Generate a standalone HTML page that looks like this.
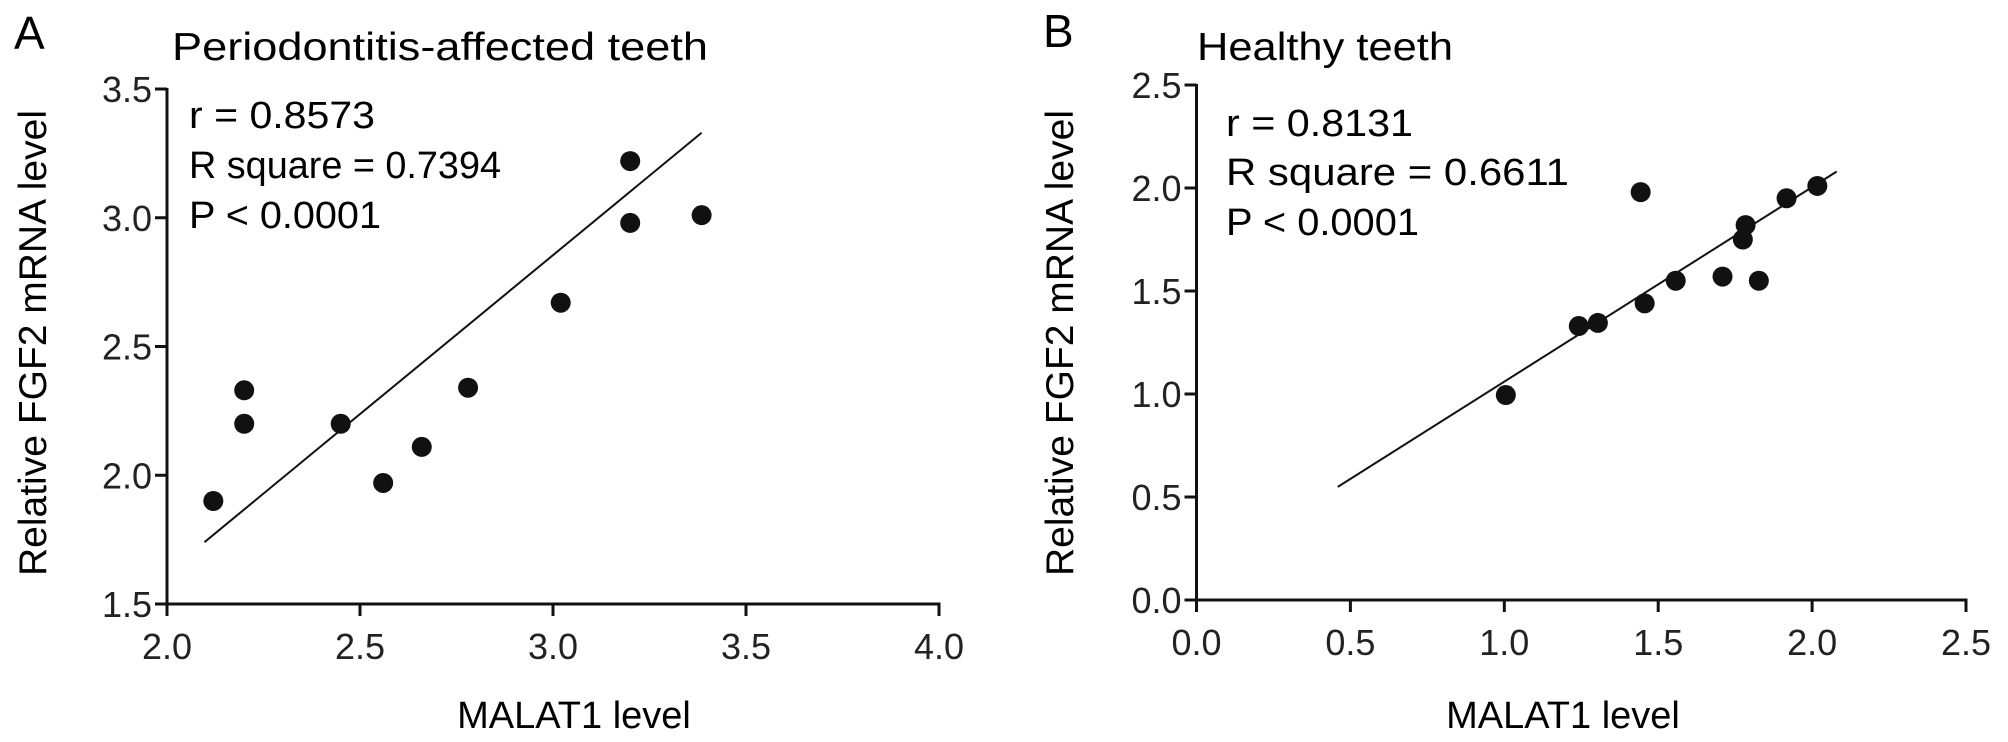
<!DOCTYPE html>
<html><head><meta charset="utf-8"><style>
html,body{margin:0;padding:0;background:#fff;}
svg{display:block;font-family:"Liberation Sans",Arial,sans-serif;}
</style></head><body>
<svg id="chart" width="2008" height="742" viewBox="0 0 2008 742" xmlns="http://www.w3.org/2000/svg">
<text x="14" y="49" font-size="46">A</text>
<text x="172" y="60" font-size="39" textLength="536" lengthAdjust="spacingAndGlyphs">Periodontitis-affected teeth</text>
<text x="189" y="128" font-size="38" textLength="186" lengthAdjust="spacingAndGlyphs">r = 0.8573</text>
<text x="189" y="178" font-size="38" textLength="312" lengthAdjust="spacingAndGlyphs">R square = 0.7394</text>
<text x="189" y="228" font-size="38" textLength="192" lengthAdjust="spacingAndGlyphs">P &lt; 0.0001</text>
<text x="574" y="728" font-size="38" text-anchor="middle">MALAT1 level</text>
<text transform="translate(46,343) rotate(-90)" font-size="39" text-anchor="middle">Relative FGF2 mRNA level</text>

<text x="1043" y="47" font-size="46">B</text>
<text x="1197" y="60" font-size="39" textLength="256" lengthAdjust="spacingAndGlyphs">Healthy teeth</text>
<text x="1226" y="136" font-size="38" textLength="187" lengthAdjust="spacingAndGlyphs">r = 0.8131</text>
<text x="1226" y="185" font-size="38" textLength="343" lengthAdjust="spacingAndGlyphs">R square = 0.6611</text>
<text x="1226" y="235" font-size="38" textLength="193" lengthAdjust="spacingAndGlyphs">P &lt; 0.0001</text>
<text x="1563" y="728" font-size="38" text-anchor="middle">MALAT1 level</text>
<text transform="translate(1073,343) rotate(-90)" font-size="39" text-anchor="middle">Relative FGF2 mRNA level</text>
</svg>
<script>
// Panel A data
const aXs = [3.20, 3.20, 3.385, 3.02, 2.78, 2.20, 2.20, 2.45, 2.66, 2.56, 2.12];
const aYs = [3.22, 2.98, 3.01, 2.67, 2.34, 2.33, 2.20, 2.20, 2.11, 1.97, 1.90];
const aFitX = [2.097, 3.385];
const aFitY = [1.74, 3.33];
const aXTicks = [2.0, 2.5, 3.0, 3.5, 4.0];
const aYTicks = [1.5, 2.0, 2.5, 3.0, 3.5];
// Panel B data
const bXs = [1.443, 2.017, 1.917, 1.784, 1.775, 1.557, 1.709, 1.827, 1.456, 1.242, 1.304, 1.005];
const bYs = [1.98, 2.01, 1.95, 1.82, 1.75, 1.55, 1.57, 1.55, 1.44, 1.33, 1.345, 0.995];
const bFitX = [0.459, 2.08];
const bFitY = [0.549, 2.08];
const bXTicks = [0.0, 0.5, 1.0, 1.5, 2.0, 2.5];
const bYTicks = [0.0, 0.5, 1.0, 1.5, 2.0, 2.5];

const NS = 'http://www.w3.org/2000/svg';
const svg = document.getElementById('chart');
function mk(tag, attrs, parent) {
  const e = document.createElementNS(NS, tag);
  for (const k in attrs) e.setAttribute(k, attrs[k]);
  (parent || svg).appendChild(e);
  return e;
}
function panel(p, cfg, xs, ys, fx, fy, xt, yt) {
  const sx = v => cfg.x0 + (v - cfg.xmin) / (cfg.xmax - cfg.xmin) * (cfg.x1 - cfg.x0);
  const sy = v => cfg.y0 - (v - cfg.ymin) / (cfg.ymax - cfg.ymin) * (cfg.y0 - cfg.y1);
  const g = mk('g', {});
  
  
  const ya = mk('line', {x1: cfg.x0, y1: cfg.y1 - 1, x2: cfg.x0, y2: cfg.y0 + 1.5, stroke: '#111', 'stroke-width': 3}, g);
  
  
  const xa = mk('line', {x1: cfg.x0 - 1.5, y1: cfg.y0, x2: sx(cfg.xmax) + 1.5, y2: cfg.y0, stroke: '#111', 'stroke-width': 3}, g);
  
  
  yt.forEach(v => {
    const t = mk('line', {x1: cfg.x0 - 12, y1: sy(v), x2: cfg.x0, y2: sy(v), stroke: '#111', 'stroke-width': 3}, g);
    
    
    const l = mk('text', {x: cfg.x0 - 15, y: sy(v) + 13, 'font-size': 36, 'text-anchor': 'end', fill: '#222'}, g);
    l.textContent = v.toFixed(1);
    
    
  });
  xt.forEach(v => {
    const t = mk('line', {x1: sx(v), y1: cfg.y0, x2: sx(v), y2: cfg.y0 + 12, stroke: '#111', 'stroke-width': 3}, g);
    
    
    const l = mk('text', {x: sx(v), y: cfg.y0 + 55, 'font-size': 36, 'text-anchor': 'middle', fill: '#222'}, g);
    l.textContent = v.toFixed(1);
    
    
  });
  const fl = mk('line', {x1: sx(fx[0]), y1: sy(fy[0]), x2: sx(fx[1]), y2: sy(fy[1]), stroke: '#111', 'stroke-width': 2}, g);
  
  
  xs.forEach((v, i) => {
    const c = mk('circle', {cx: sx(v), cy: sy(ys[i]), r: 10, fill: '#111'}, g);
    
    
  });
}
panel('a', {x0: 167, x1: 939, xmin: 2.0, xmax: 4.0, y0: 604, y1: 89, ymin: 1.5, ymax: 3.5}, aXs, aYs, aFitX, aFitY, aXTicks, aYTicks);
panel('b', {x0: 1196.5, x1: 1966, xmin: 0.0, xmax: 2.5, y0: 600, y1: 85, ymin: 0.0, ymax: 2.5}, bXs, bYs, bFitX, bFitY, bXTicks, bYTicks);
</script>
</body></html>
